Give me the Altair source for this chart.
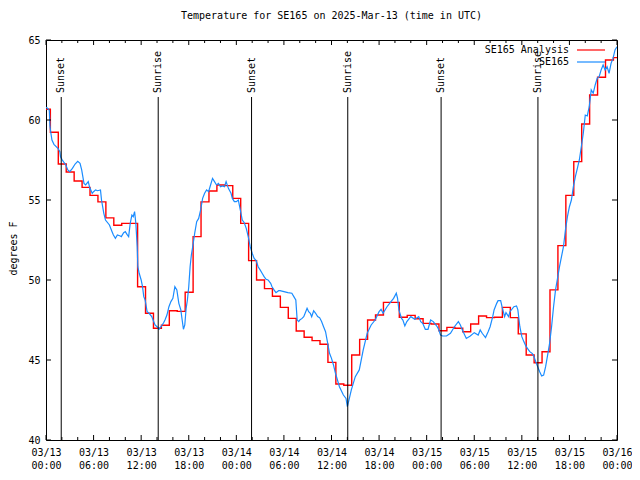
import altair as alt
import pandas as pd

TITLE = "Temperature for SE165 on 2025-Mar-13 (time in UTC)"
FONT = "DejaVu Sans Mono"

# Analysis (hourly step values); times in hours since 03/13 00:00 UTC
red_hours = [0.0] + [h + 0.55 for h in range(72)] + [72.0]
red_vals = [60.67,
            59.23, 57.25, 56.75, 56.19, 55.79, 55.29, 54.88, 53.88, 53.42, 53.54,
            53.54, 49.58, 47.92, 46.98, 47.17, 48.08, 48.04, 49.23, 52.71, 54.88,
            55.56, 55.94, 55.90, 55.10, 53.54, 51.21, 50.00, 49.46, 48.98, 48.29,
            47.60, 46.81, 46.42, 46.21, 45.98, 44.85, 43.50, 43.42, 45.31, 46.29,
            47.50, 47.81, 48.60, 48.60, 47.67, 47.79, 47.58, 47.29, 47.25, 46.83,
            47.04, 46.98, 46.77, 47.25, 47.75, 47.65, 47.67, 48.29, 47.65, 46.63,
            45.31, 44.83, 45.52, 49.38, 52.15, 55.29, 57.40, 59.75, 61.56, 62.67,
            63.75, 63.90,
            63.90]

# Observations
blue_hours = [0.0, 0.2, 0.42, 0.5, 0.62, 0.75, 1.0, 1.5, 1.75, 1.83, 2.0, 2.29, 2.5, 2.75, 3.0,
              3.33, 3.67, 4.0, 4.29, 4.5, 4.79, 5.0, 5.33, 5.5, 5.83, 6.0, 6.25, 6.5, 6.87, 7.0,
              7.29, 7.5, 8.0, 8.33, 8.5, 8.75, 9.0, 9.37, 9.5, 9.79, 10.0, 10.21, 10.42, 10.62,
              10.83, 11.0, 11.17, 11.33, 11.5, 11.58, 11.75, 12.0, 12.17, 12.33, 12.5, 12.75,
              13.0, 13.33, 13.5, 13.75, 14.0, 14.25, 14.5, 14.83, 15.0, 15.25, 15.5, 15.75,
              16.0, 16.25, 16.5, 16.75, 17.0, 17.17, 17.33, 17.5, 17.67, 17.83, 18.0, 18.17,
              18.33, 18.5, 18.75, 19.0, 19.25, 19.5, 19.75, 20.0, 20.25, 20.5, 20.75, 21.0,
              21.25, 21.5, 21.75, 22.0, 22.25, 22.5, 22.71, 23.0, 23.33, 23.5, 23.75, 24.0,
              24.25, 24.5, 24.75, 25.0, 25.25, 25.5, 25.75, 26.0, 26.25, 26.5, 26.75, 27.0,
              27.25, 27.5, 27.75, 28.0, 28.33, 28.5, 28.75, 29.0, 29.33, 29.5, 30.0, 30.5,
              31.0, 31.25, 31.5, 31.67, 31.87, 32.0, 32.29, 32.5, 32.75, 32.92, 33.12, 33.33,
              33.5, 33.75, 34.0, 34.25, 34.5, 34.75, 35.0, 35.25, 35.5, 35.75, 36.0, 36.25,
              36.5, 37.0, 37.5, 37.83, 38.0, 38.25, 38.5, 39.0, 39.5, 40.0, 40.5, 41.0, 41.5,
              42.0, 42.25, 42.5, 43.0, 43.5, 43.83, 44.17, 44.33, 44.5, 44.83, 45.0, 45.25,
              45.5, 46.0, 46.5, 47.0, 47.25, 47.5, 47.83, 48.17, 48.5, 48.83, 49.0, 49.33,
              49.5, 49.75, 50.0, 50.5, 51.0, 51.5, 52.0, 52.25, 52.5, 53.0, 53.5, 54.0, 54.5,
              54.75, 55.0, 55.42, 55.75, 56.0, 56.33, 56.5, 56.83, 57.0, 57.33, 57.5, 57.83,
              58.0, 58.33, 58.5, 59.0, 59.33, 59.5, 59.75, 60.0, 60.25, 60.5, 60.75, 61.0,
              61.33, 61.5, 61.75, 62.0, 62.25, 62.5, 62.75, 63.0, 63.25, 63.5, 63.75, 64.0,
              64.25, 64.5, 64.75, 65.0, 65.25, 65.5, 65.75, 66.0, 66.25, 66.5, 66.75, 67.0,
              67.25, 67.5, 67.75, 68.0, 68.25, 68.5, 68.75, 69.0, 69.25, 69.5, 69.75, 70.0,
              70.25, 70.5, 70.75, 71.0, 71.25, 71.5, 71.75, 72.0]
blue_vals = [60.79, 60.73, 60.6, 59.6, 59.17, 58.75, 58.48, 58.23, 58.02, 57.7, 57.54, 57.33, 57.19,
             56.88, 56.77, 56.98, 57.25, 57.42, 57.29, 56.88, 56.04, 55.94, 56.15, 55.79, 55.42,
             55.52, 55.63, 55.58, 55.63, 55.0, 54.17, 53.75, 53.44, 53.02, 52.81, 52.6, 52.81,
             52.75, 52.71, 52.96, 53.02, 52.85, 52.71, 53.54, 54.06, 53.96, 54.27, 53.54, 52.08,
             50.83, 50.42, 50.0, 49.58, 48.96, 48.75, 48.02, 47.92, 47.71, 47.5, 47.19, 47.08,
             46.92, 47.08, 47.33, 47.5, 47.81, 48.33, 48.65, 48.85, 49.58, 49.38, 48.54, 48.13,
             47.5, 46.92, 47.19, 48.23, 48.75, 49.58, 50.83, 51.56, 52.08, 52.92, 53.65, 53.85,
             54.38, 55.1, 55.42, 55.63, 55.52, 55.94, 56.35, 56.15, 55.94, 56.04, 55.83, 55.88,
             55.83, 56.15, 55.73, 55.42, 55.1, 54.9, 54.9, 55.0, 54.38, 53.75, 53.58, 53.23,
             52.71, 52.08, 51.67, 51.35, 51.21, 50.83, 50.63, 50.42, 50.21, 50.04, 50.0, 49.79,
             49.58, 49.38, 49.21, 49.33, 49.33, 49.27, 49.21, 49.17, 48.96, 48.75, 47.5, 47.4,
             47.5, 47.6, 47.71, 48.02, 48.23, 48.02, 47.92, 47.71, 48.08, 47.92, 47.71, 47.65,
             47.4, 47.08, 46.77, 46.1, 45.42, 45.1, 44.69, 44.17, 43.33, 42.81, 42.6, 42.08,
             42.6, 43.13, 43.96, 44.38, 45.63, 46.67, 47.19, 47.5, 48.02, 48.17, 47.92, 48.33,
             48.65, 48.85, 49.17, 48.85, 48.13, 47.6, 47.5, 47.13, 47.4, 47.71, 47.54, 47.71,
             47.4, 47.29, 46.92, 46.92, 47.5, 47.4, 47.29, 47.08, 46.92, 46.56, 46.5, 46.5,
             46.67, 47.08, 47.4, 47.19, 46.88, 46.35, 46.5, 46.71, 46.56, 46.88, 46.67, 46.4,
             46.77, 47.08, 47.71, 48.13, 48.54, 48.71, 48.71, 48.33, 47.71, 47.96, 47.71, 48.02,
             48.33, 48.38, 48.13, 47.08, 46.46, 46.15, 45.88, 45.7, 45.52, 45.4, 45.25, 44.9,
             44.58, 44.27, 44.0, 44.06, 44.58, 45.31, 46.04, 47.08, 48.33, 49.38, 50.1, 50.83,
             51.46, 52.08, 53.13, 53.96, 54.58, 55.0, 55.83, 56.46, 56.98, 57.5, 58.33, 59.17,
             60.31, 60.25, 60.83, 61.88, 61.67, 62.19, 62.6, 62.71, 63.13, 63.44, 63.13, 63.33,
             62.92, 63.54, 63.85, 64.38, 64.58]

event_hours = [1.92, 14.15, 25.92, 38.05, 49.82, 62.03]
event_names = ["Sunset", "Sunrise", "Sunset", "Sunrise", "Sunset", "Sunrise"]

tick_hours = [0, 6, 12, 18, 24, 30, 36, 42, 48, 54, 60, 66, 72]
tick_dates = ["03/13", "03/13", "03/13", "03/13", "03/14", "03/14", "03/14", "03/14",
              "03/15", "03/15", "03/15", "03/15", "03/16"]
tick_times = ["00:00", "06:00", "12:00", "18:00", "00:00", "06:00", "12:00", "18:00",
              "00:00", "06:00", "12:00", "18:00", "00:00"]
minor_tick_hours = [2, 4, 8, 10, 14, 16, 20, 22, 26, 28, 32, 34, 38, 40, 44, 46, 50, 52,
                    56, 58, 62, 64, 68, 70]
y_ticks = [40, 45, 50, 55, 60, 65]

series_names = ["SE165 Analysis", "SE165"]
series_colors = ["#ff0000", "#1a8cff"]

W, H = 571, 400
xs = alt.Scale(domain=[0, 72], nice=False, zero=False)
ys = alt.Scale(domain=[40, 65], nice=False, zero=False)

label_expr = "[" + ",".join(f"['{d}','{t}']" for d, t in zip(tick_dates, tick_times)) + "][round(datum.value/6)]"

red_df = pd.DataFrame({"h": red_hours, "v": red_vals})
blue_df = pd.DataFrame({"h": blue_hours, "v": blue_vals})
ev_df = pd.DataFrame({"h": event_hours, "name": event_names})
maj_df = pd.DataFrame({"h": tick_hours})
min_df = pd.DataFrame({"h": minor_tick_hours})
yt_df = pd.DataFrame({"v": y_ticks})

x_axis = alt.Axis(values=tick_hours, labelExpr=label_expr, labelFont=FONT, labelFontSize=10,
                  labelColor="black", labelPadding=7, labelLineHeight=13, ticks=False,
                  domain=False, grid=False, title=None, labelBaseline="top",
                  labelFlush=False, labelOverlap=False, labelAlign="center", labelBound=False)
y_axis = alt.Axis(values=y_ticks, format="d", labelFont=FONT, labelFontSize=10,
                  labelColor="black", labelPadding=6, ticks=False, domain=False, grid=False,
                  labelFlush=False, labelOverlap=False,
                  title="degrees F", titleFont=FONT, titleFontSize=10, titleFontWeight="normal",
                  titleColor="black", titleX=-33, titleY=208, titleAngle=270,
                  titleAlign="center", titleBaseline="middle")

red = alt.Chart(red_df).mark_line(interpolate="step-after", color=series_colors[0],
                                  strokeWidth=1.4, clip=True).encode(
    x=alt.X("h:Q", scale=xs, axis=x_axis),
    y=alt.Y("v:Q", scale=ys, axis=y_axis),
)
blue = alt.Chart(blue_df).mark_line(color=series_colors[1], strokeWidth=1.2, clip=True).encode(
    x=alt.X("h:Q", scale=xs),
    y=alt.Y("v:Q", scale=ys),
)

ev_lines = alt.Chart(ev_df).mark_rule(color="black", strokeWidth=1).encode(
    x=alt.X("h:Q", scale=xs), y=alt.value(57), y2=alt.value(H))
ev_text = alt.Chart(ev_df).mark_text(angle=270, align="left", baseline="middle",
                                     font=FONT, fontSize=10, color="black").encode(
    x=alt.X("h:Q", scale=xs), y=alt.value(53), text="name:N")

bot_major = alt.Chart(maj_df).mark_rule(color="black").encode(
    x=alt.X("h:Q", scale=xs), y=alt.value(H), y2=alt.value(H - 5))
top_major = alt.Chart(maj_df).mark_rule(color="black").encode(
    x=alt.X("h:Q", scale=xs), y=alt.value(0), y2=alt.value(5))
bot_minor = alt.Chart(min_df).mark_rule(color="black").encode(
    x=alt.X("h:Q", scale=xs), y=alt.value(H), y2=alt.value(H - 3))
top_minor = alt.Chart(min_df).mark_rule(color="black").encode(
    x=alt.X("h:Q", scale=xs), y=alt.value(0), y2=alt.value(3))
left_t = alt.Chart(yt_df).mark_rule(color="black").encode(
    y=alt.Y("v:Q", scale=ys), x=alt.value(0), x2=alt.value(5))
right_t = alt.Chart(yt_df).mark_rule(color="black").encode(
    y=alt.Y("v:Q", scale=ys), x=alt.value(W), x2=alt.value(W - 5))

legend_layers = []
for i, (nm, col) in enumerate(zip(series_names, series_colors)):
    ldf = pd.DataFrame({"name": [nm]})
    legend_layers.append(alt.Chart(ldf).mark_text(align="right", baseline="middle", font=FONT,
                                                  fontSize=10, color="black").encode(
        x=alt.value(W - 48), y=alt.value(10 + 12 * i), text="name:N"))
    legend_layers.append(alt.Chart(ldf).mark_rule(color=col, strokeWidth=1.2).encode(
        x=alt.value(W - 40), x2=alt.value(W - 12), y=alt.value(10 + 12 * i)))

chart = alt.layer(
    red, blue, ev_lines, ev_text, bot_major, top_major, bot_minor, top_minor, left_t, right_t,
    *legend_layers
).properties(
    width=W, height=H,
    title=alt.TitleParams(TITLE, font=FONT, fontSize=10, fontWeight="normal", color="black",
                          anchor="middle", offset=14),
    padding={"left": 38, "top": 32, "right": 15, "bottom": 32},
    autosize=alt.AutoSizeParams(type="none"),
    background="white",
).configure_view(stroke="black", strokeWidth=1)

chart.save("out.html", embed_options={"renderer": "svg", "actions": False})
